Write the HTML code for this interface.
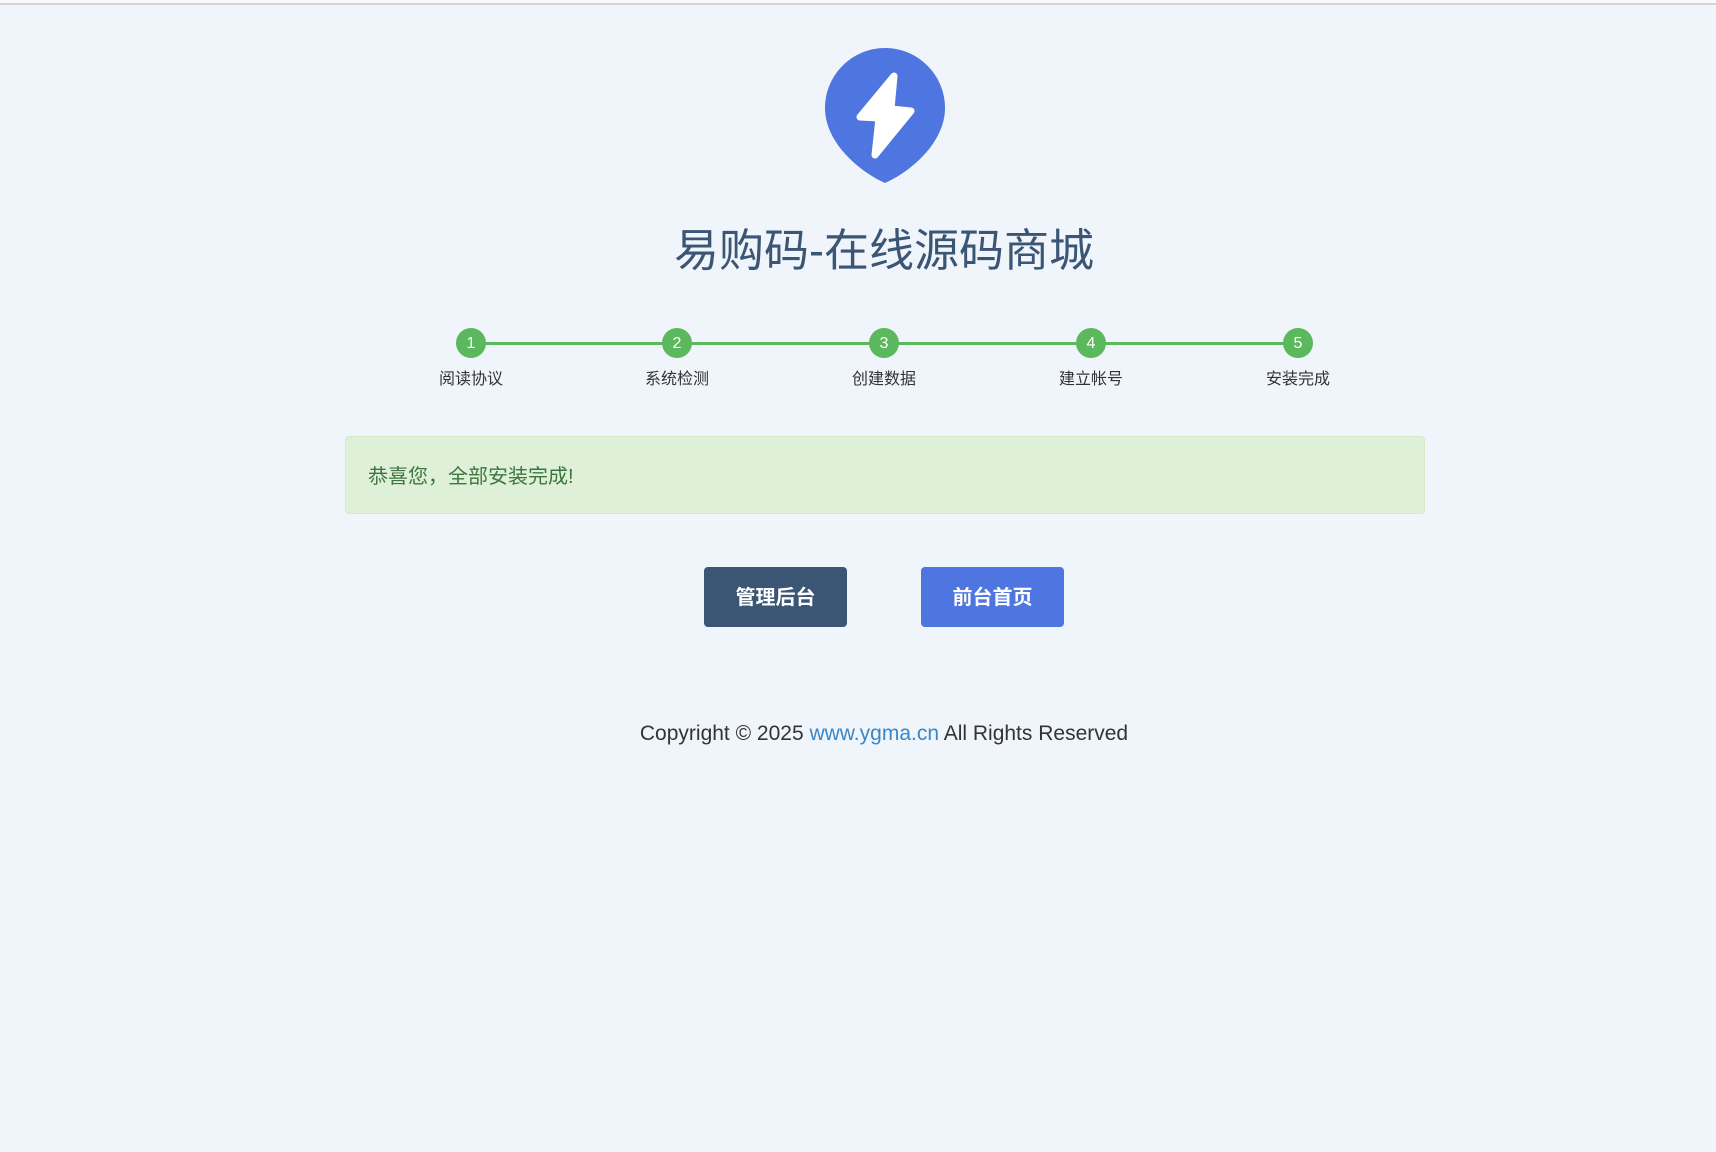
<!DOCTYPE html>
<html><head><meta charset="utf-8"><style>
html,body{margin:0;padding:0;}
body{width:1716px;height:1152px;background:#f0f5fc;position:relative;overflow:hidden;font-family:"Liberation Sans","Noto Sans CJK SC",sans-serif;}
.top{position:absolute;left:0;top:0;width:1716px;height:3px;background:#fafafa;border-bottom:2px solid #d4d4d4;}
.logo{position:absolute;left:825px;top:48px;}
.title{position:absolute;left:0;width:1768px;top:222px;text-align:center;font-size:45px;color:#3b5575;line-height:58px;}
.line{position:absolute;left:471px;top:342px;width:827px;height:3px;background:#5cb85c;}
.c{position:absolute;top:328px;width:30px;height:30px;margin-left:-15px;border-radius:50%;background:#5cb85c;color:#fff;font-size:16px;line-height:32px;text-align:center;}
.l{position:absolute;top:368px;width:120px;margin-left:-60px;text-align:center;font-size:16px;color:#333;line-height:24px;}
.alert{position:absolute;left:345px;top:436px;width:1080px;height:78px;background:#dff0d8;border:1px solid #d6e9c6;border-radius:4px;box-sizing:border-box;color:#3c763d;font-size:20px;line-height:80px;padding-left:22px;}
.btn{position:absolute;top:567px;width:143px;height:60px;border-radius:4px;color:#fff;font-weight:bold;font-size:20px;line-height:62px;text-align:center;}
.copy{position:absolute;left:0;width:1768px;top:720px;text-align:center;font-size:21px;color:#333;line-height:28px;}
.copy span{color:#3a87c8;}
</style></head><body>
<div class="top"></div>
<svg class="logo" width="120" height="135" viewBox="0 0 120 135">
<path d="M60,0 C93,0 120,27 120,60 C120,95 85,124 60,135 C35,124 0,95 0,60 C0,27 27,0 60,0Z" fill="#4f76e0"/>
<polygon points="69,28 35,69 54,70 50,107 86,63 66,61" fill="#fff" stroke="#fff" stroke-width="7" stroke-linejoin="round"/>
</svg>
<div class="title">易购码-在线源码商城</div>
<div class="line"></div>
<div class="c" style="left:471px">1</div><div class="c" style="left:677px">2</div><div class="c" style="left:884px">3</div><div class="c" style="left:1091px">4</div><div class="c" style="left:1298px">5</div>
<div class="l" style="left:471px">阅读协议</div><div class="l" style="left:677px">系统检测</div><div class="l" style="left:884px">创建数据</div><div class="l" style="left:1091px">建立帐号</div><div class="l" style="left:1298px">安装完成</div>
<div class="alert">恭喜您，全部安装完成!</div>
<div class="btn" style="left:704px;background:#3b5575">管理后台</div>
<div class="btn" style="left:921px;background:#4f76e0">前台首页</div>
<div class="copy">Copyright © 2025 <span>www.ygma.cn</span> All Rights Reserved</div>
</body></html>
